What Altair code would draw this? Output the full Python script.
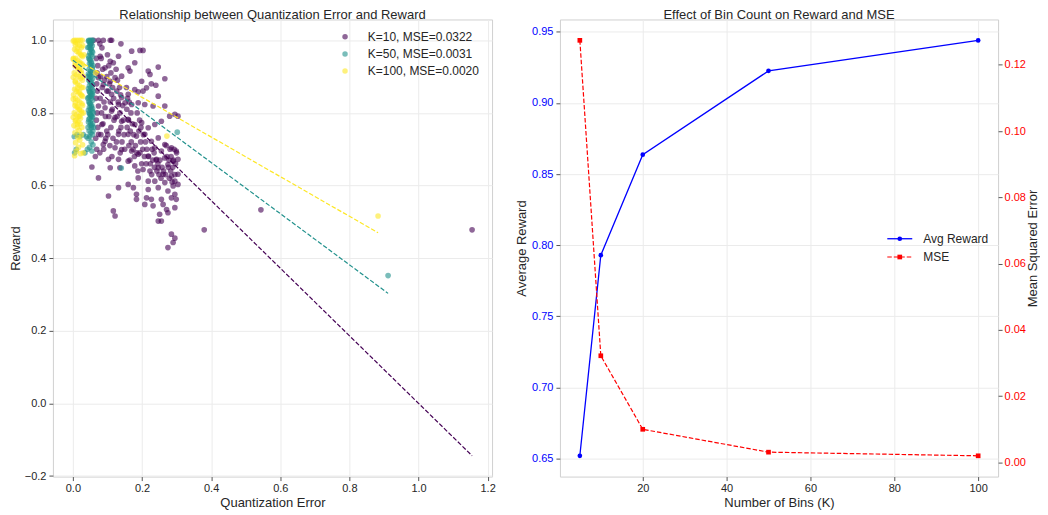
import altair as alt
import pandas as pd

FONT = "Liberation Sans"
TXT = "#262626"

# ---------------- left panel: values ----------------
group_labels = ["K=10, MSE=0.0322", "K=50, MSE=0.0031", "K=100, MSE=0.0020"]
group_colors = ["#440154", "#21918c", "#fde725"]

# (quantization error, reward) for K=10
pts_k10 = [
    (0.074, 1.000), (0.088, 1.000), (0.108, 1.000), (0.112, 1.000), (0.060, 1.000), (0.052, 0.990),
    (0.139, 0.990), (0.084, 0.979), (0.079, 0.956), (0.170, 0.970), (0.194, 0.972), (0.203, 0.972),
    (0.132, 0.956), (0.108, 0.942), (0.117, 0.938), (0.093, 0.924), (0.179, 0.938), (0.247, 0.926),
    (0.160, 0.924), (0.165, 0.915), (0.141, 0.901), (0.122, 0.897), (0.108, 0.887), (0.218, 0.915),
    (0.223, 0.906), (0.266, 0.894), (0.199, 0.887), (0.227, 0.880), (0.240, 0.876), (0.179, 0.864),
    (0.189, 0.858), (0.203, 0.860), (0.213, 0.869), (0.247, 0.846), (0.160, 0.851), (0.141, 0.842),
    (0.112, 0.851), (0.098, 0.860), (0.088, 0.878), (0.074, 0.897), (0.132, 0.823), (0.151, 0.828),
    (0.170, 0.823), (0.189, 0.828), (0.208, 0.823), (0.232, 0.819), (0.266, 0.819), (0.295, 0.796),
    (0.304, 0.791), (0.280, 0.791), (0.112, 0.805), (0.093, 0.814), (0.074, 0.819), (0.122, 0.787),
    (0.141, 0.777), (0.160, 0.782), (0.179, 0.768), (0.199, 0.773), (0.218, 0.759), (0.237, 0.768),
    (0.256, 0.777), (0.084, 0.768), (0.098, 0.750), (0.074, 0.741), (0.132, 0.741), (0.160, 0.741),
    (0.184, 0.736), (0.208, 0.741), (0.227, 0.722), (0.247, 0.731), (0.266, 0.713), (0.285, 0.704),
    (0.299, 0.695), (0.256, 0.695), (0.237, 0.704), (0.093, 0.722), (0.088, 0.713), (0.122, 0.704),
    (0.141, 0.699), (0.170, 0.695), (0.189, 0.686), (0.218, 0.681), (0.242, 0.672), (0.266, 0.676),
    (0.290, 0.667), (0.304, 0.672), (0.275, 0.658), (0.103, 0.672), (0.132, 0.672), (0.160, 0.667),
    (0.179, 0.654), (0.203, 0.644), (0.223, 0.640), (0.247, 0.649), (0.261, 0.631), (0.285, 0.626),
    (0.304, 0.631), (0.295, 0.612), (0.055, 0.651), (0.074, 0.621), (0.108, 0.649), (0.136, 0.649),
    (0.189, 0.621), (0.218, 0.612), (0.237, 0.612), (0.266, 0.608), (0.290, 0.599), (0.304, 0.603),
    (0.132, 0.594), (0.160, 0.603), (0.175, 0.594), (0.184, 0.576), (0.218, 0.589), (0.247, 0.594),
    (0.275, 0.585), (0.295, 0.576), (0.103, 0.571), (0.184, 0.562), (0.213, 0.566), (0.227, 0.562),
    (0.256, 0.562), (0.285, 0.566), (0.299, 0.562), (0.208, 0.548), (0.232, 0.544), (0.261, 0.548),
    (0.271, 0.534), (0.295, 0.539), (0.117, 0.530), (0.122, 0.516), (0.251, 0.521), (0.275, 0.525),
    (0.256, 0.502), (0.247, 0.502), (0.285, 0.466), (0.295, 0.455), (0.290, 0.443), (0.275, 0.429),
    (0.068, 0.950), (0.072, 0.930), (0.070, 0.910), (0.069, 0.880), (0.071, 0.860), (0.067, 0.840),
    (0.070, 0.800), (0.068, 0.780), (0.072, 0.760), (0.066, 0.730), (0.069, 0.700), (0.065, 0.680),
    (0.078, 0.990), (0.082, 0.950), (0.086, 0.920), (0.080, 0.900), (0.091, 0.890), (0.085, 0.870),
    (0.079, 0.840), (0.090, 0.830), (0.083, 0.800), (0.094, 0.790), (0.087, 0.770), (0.081, 0.740),
    (0.095, 0.730), (0.089, 0.700), (0.078, 0.690), (0.100, 0.960), (0.104, 0.930), (0.098, 0.900),
    (0.110, 0.910), (0.106, 0.880), (0.115, 0.870), (0.102, 0.860), (0.118, 0.840), (0.108, 0.830),
    (0.114, 0.810), (0.104, 0.790), (0.119, 0.780), (0.110, 0.760), (0.101, 0.740), (0.116, 0.730),
    (0.107, 0.710), (0.113, 0.680), (0.125, 0.920), (0.129, 0.890), (0.135, 0.870), (0.127, 0.860),
    (0.138, 0.850), (0.131, 0.830), (0.144, 0.820), (0.136, 0.800), (0.128, 0.790), (0.146, 0.780),
    (0.139, 0.760), (0.133, 0.750), (0.148, 0.740), (0.142, 0.720), (0.126, 0.720), (0.150, 0.700),
    (0.137, 0.690), (0.155, 0.870), (0.158, 0.840), (0.163, 0.830), (0.156, 0.810), (0.168, 0.800),
    (0.161, 0.780), (0.172, 0.770), (0.166, 0.750), (0.157, 0.760), (0.176, 0.740), (0.169, 0.720),
    (0.181, 0.710), (0.174, 0.700), (0.162, 0.710), (0.185, 0.690), (0.178, 0.680), (0.165, 0.670),
    (0.186, 0.800), (0.193, 0.780), (0.197, 0.760), (0.191, 0.750), (0.204, 0.740), (0.196, 0.720),
    (0.210, 0.720), (0.202, 0.700), (0.214, 0.700), (0.194, 0.690), (0.207, 0.680), (0.219, 0.680),
    (0.199, 0.660), (0.212, 0.660), (0.224, 0.660), (0.188, 0.640), (0.229, 0.700), (0.235, 0.690),
    (0.231, 0.670), (0.241, 0.670), (0.236, 0.650), (0.246, 0.660), (0.252, 0.670), (0.243, 0.640),
    (0.258, 0.650), (0.249, 0.630), (0.228, 0.630), (0.262, 0.640), (0.255, 0.620), (0.268, 0.630),
    (0.272, 0.680), (0.278, 0.670), (0.284, 0.680), (0.291, 0.670), (0.297, 0.660), (0.276, 0.650),
    (0.283, 0.640), (0.289, 0.650), (0.295, 0.630), (0.279, 0.620), (0.287, 0.610), (0.300, 0.690),
    (0.293, 0.700), (0.281, 0.700), (0.270, 0.710),
    (0.380, 0.478), (0.544, 0.533), (1.155, 0.478),
]

# (quantization error, reward) for K=50
pts_k50 = [
    (0.046, 1.000), (0.050, 1.000), (0.054, 1.000), (0.057, 1.000), (0.048, 0.995), (0.052, 0.990),
    (0.056, 0.985), (0.047, 0.980), (0.051, 0.975), (0.055, 0.970), (0.049, 0.965), (0.053, 0.960),
    (0.057, 0.955), (0.046, 0.950), (0.050, 0.945), (0.054, 0.940), (0.048, 0.935), (0.052, 0.930),
    (0.056, 0.925), (0.047, 0.920), (0.051, 0.915), (0.055, 0.910), (0.049, 0.905), (0.053, 0.900),
    (0.057, 0.895), (0.046, 0.890), (0.050, 0.885), (0.054, 0.880), (0.048, 0.875), (0.052, 0.870),
    (0.056, 0.865), (0.047, 0.860), (0.051, 0.855), (0.055, 0.850), (0.049, 0.845), (0.053, 0.840),
    (0.057, 0.835), (0.046, 0.830), (0.050, 0.825), (0.054, 0.820), (0.048, 0.815), (0.052, 0.810),
    (0.056, 0.805), (0.047, 0.800), (0.051, 0.795), (0.055, 0.790), (0.049, 0.785), (0.053, 0.780),
    (0.045, 0.775), (0.057, 0.770), (0.050, 0.765), (0.054, 0.760), (0.047, 0.750), (0.052, 0.745),
    (0.056, 0.740), (0.049, 0.735), (0.044, 0.730), (0.053, 0.720), (0.058, 0.712), (0.048, 0.705),
    (0.039, 0.735), (0.030, 0.740), (0.055, 0.695), (0.035, 0.690), (0.042, 0.700), (0.060, 0.760),
    (0.043, 0.980), (0.044, 0.900), (0.043, 0.840), (0.058, 0.930), (0.058, 0.860), (0.059, 0.800),
    (0.045, 0.998), (0.049, 0.987), (0.053, 0.977), (0.057, 0.967), (0.045, 0.957), (0.049, 0.947),
    (0.053, 0.937), (0.057, 0.917), (0.045, 0.907), (0.049, 0.897), (0.053, 0.887), (0.057, 0.877),
    (0.045, 0.867), (0.049, 0.857), (0.053, 0.847), (0.057, 0.852), (0.045, 0.842), (0.049, 0.827),
    (0.053, 0.817), (0.057, 0.812), (0.045, 0.807), (0.049, 0.797), (0.053, 0.792), (0.057, 0.787),
    (0.046, 0.782), (0.051, 0.772), (0.055, 0.765), (0.044, 0.760), (0.058, 0.750),
    (0.005, 0.690), (0.012, 0.740), (0.020, 0.735), (0.004, 0.735), (0.010, 0.700),
    (0.140, 0.648), (0.302, 0.747), (0.912, 0.352),
]

# (quantization error, reward) for K=100
pts_k100 = [
    (0.004, 1.000), (0.010, 1.000), (0.016, 1.000), (0.022, 1.000), (0.027, 1.000), (0.007, 0.995),
    (0.013, 0.990), (0.019, 0.985), (0.025, 0.980), (0.005, 0.975), (0.011, 0.970), (0.017, 0.965),
    (0.023, 0.960), (0.028, 0.955), (0.008, 0.950), (0.014, 0.945), (0.020, 0.940), (0.026, 0.935),
    (0.006, 0.930), (0.012, 0.925), (0.018, 0.920), (0.024, 0.915), (0.004, 0.910), (0.010, 0.905),
    (0.016, 0.900), (0.022, 0.895), (0.027, 0.890), (0.007, 0.885), (0.013, 0.880), (0.019, 0.875),
    (0.025, 0.870), (0.005, 0.865), (0.011, 0.860), (0.017, 0.855), (0.023, 0.850), (0.028, 0.845),
    (0.008, 0.840), (0.014, 0.835), (0.020, 0.830), (0.026, 0.825), (0.006, 0.820), (0.012, 0.815),
    (0.018, 0.810), (0.024, 0.805), (0.004, 0.800), (0.010, 0.795), (0.016, 0.790), (0.022, 0.785),
    (0.009, 0.780), (0.015, 0.775), (0.021, 0.770), (0.003, 0.765), (0.012, 0.760), (0.018, 0.752),
    (0.006, 0.745), (0.024, 0.740), (0.014, 0.732), (0.020, 0.725), (0.008, 0.718), (0.028, 0.712),
    (0.016, 0.705), (0.010, 0.695), (0.022, 0.688), (0.005, 0.682), (0.030, 0.690), (0.026, 0.760),
    (0.030, 0.800), (0.032, 0.960), (0.030, 0.900), (0.066, 0.910), (0.002, 0.850), (0.002, 0.950),
    (0.001, 0.998), (0.007, 0.988), (0.013, 0.978), (0.019, 0.968), (0.025, 0.958), (0.001, 0.948),
    (0.007, 0.938), (0.013, 0.928), (0.019, 0.918), (0.025, 0.908), (0.001, 0.898), (0.007, 0.888),
    (0.013, 0.868), (0.019, 0.858), (0.025, 0.848), (0.001, 0.838), (0.007, 0.828), (0.013, 0.818),
    (0.019, 0.808), (0.025, 0.798), (0.001, 0.788), (0.007, 0.778), (0.013, 0.768), (0.019, 0.790),
    (0.028, 0.820), (0.029, 0.870), (0.029, 0.930), (0.028, 0.985),
    (0.272, 0.736), (0.883, 0.516),
]

# dashed fit lines: (start, end)
fit_qe_k10 = [0.0, 1.155]
fit_rw_k10 = [0.931, -0.144]
fit_qe_k50 = [0.0, 0.912]
fit_rw_k50 = [0.945, 0.303]
fit_qe_k100 = [0.0, 0.883]
fit_rw_k100 = [0.952, 0.470]

# ---------------- right panel ----------------
bins_k = [5, 10, 20, 50, 100]
avg_reward = [0.652, 0.793, 0.8636, 0.9225, 0.9439]
mse_vals = [0.1274, 0.0322, 0.0100, 0.0031, 0.0020]

# ---------------- build tables ----------------
rows = []
for lab, pts in zip(group_labels, [pts_k10, pts_k50, pts_k100]):
    for q, r in pts:
        rows.append({"group": lab, "qe": q, "reward": r})
scatter_df = pd.DataFrame(rows)

fit_rows = []
for lab, qs, rs in zip(group_labels,
                       [fit_qe_k10, fit_qe_k50, fit_qe_k100],
                       [fit_rw_k10, fit_rw_k50, fit_rw_k100]):
    for i, (q, r) in enumerate(zip(qs, rs)):
        fit_rows.append({"group": lab, "qe": q, "reward": r, "o": i})
fit_df = pd.DataFrame(fit_rows)

right_df = pd.DataFrame({"K": bins_k, "avg": avg_reward, "mse": mse_vals})
one = pd.DataFrame({"a": [0]})

PLOT_H = 458

# ---------------- left chart ----------------
xq = alt.X("qe:Q",
           scale=alt.Scale(domain=[-0.0578, 1.2128], nice=False, zero=False),
           axis=alt.Axis(title="Quantization Error", values=[0, 0.2, 0.4, 0.6, 0.8, 1.0, 1.2],
                         format=".1f"))
yr = alt.Y("reward:Q",
           scale=alt.Scale(domain=[-0.2014, 1.0572], nice=False, zero=False),
           axis=alt.Axis(title="Reward", values=[-0.2, 0, 0.2, 0.4, 0.6, 0.8, 1.0],
                         format=".1f", titlePadding=2))
cscale = alt.Scale(domain=group_labels, range=group_colors)

pts_layer = alt.Chart(scatter_df).mark_circle(size=32, opacity=0.6).encode(
    x=xq, y=yr,
    color=alt.Color("group:N", scale=cscale, legend=None),
)
fit_layer = alt.Chart(fit_df).mark_line(strokeDash=[4.5, 2], strokeWidth=1.2).encode(
    x=xq, y=yr, order="o:Q",
    color=alt.Color("group:N", scale=cscale, legend=None),
    detail="group:N",
)

# legend (decoration): one marker + label per group, in the upper right corner
left_legend = []
for lab, col, ly in zip(group_labels, group_colors, [17.4, 34.7, 51.7]):
    left_legend.append(alt.Chart(one).mark_circle(size=30, opacity=0.6, color=col).encode(
        x=alt.value(292.7), y=alt.value(ly)))
    left_legend.append(alt.Chart(one).mark_text(align="left", baseline="middle", fontSize=12,
                                                color=TXT).encode(
        x=alt.value(315.5), y=alt.value(ly), text=alt.value(lab)))

left = alt.layer(pts_layer, fit_layer, *left_legend).properties(
    width=440, height=PLOT_H,
    title=alt.Title("Relationship between Quantization Error and Reward"),
)

# ---------------- right chart ----------------
xk = alt.X("K:Q", scale=alt.Scale(domain=[0.25, 104.75], nice=False, zero=False),
           axis=alt.Axis(title="Number of Bins (K)", values=[20, 40, 60, 80, 100]))

reward_layer = alt.Chart(right_df).mark_line(
    color="#0000ff", strokeWidth=1.3,
    point=alt.OverlayMarkDef(filled=True, color="#0000ff", size=22, opacity=1),
).encode(
    x=xk,
    y=alt.Y("avg:Q", scale=alt.Scale(domain=[0.6374, 0.9586], nice=False, zero=False),
            axis=alt.Axis(title="Average Reward", values=[0.65, 0.70, 0.75, 0.80, 0.85, 0.90, 0.95],
                          format=".2f", labelColor="#0000ff", gridColor="#ebebeb", titlePadding=3)),
)
mse_layer = alt.Chart(right_df).mark_line(
    color="#ff0000", strokeWidth=1.2, strokeDash=[4.5, 2],
    point=alt.OverlayMarkDef(filled=True, shape="square", color="#ff0000", size=22, opacity=1),
).encode(
    x=xk,
    y=alt.Y("mse:Q", scale=alt.Scale(domain=[-0.00427, 0.1337], nice=False, zero=False),
            axis=alt.Axis(orient="right", title="Mean Squared Error",
                          values=[0, 0.02, 0.04, 0.06, 0.08, 0.10, 0.12], format=".2f",
                          labelColor="#ff0000", gridColor="#d0d0d0", labelPadding=2,
                          titleAngle=270, titleBaseline="top", titlePadding=1)),
)

leg_y1, leg_y2 = 219.7, 238
leg_rule1 = alt.Chart(one).mark_rule(color="#0000ff", strokeWidth=1.3).encode(
    x=alt.value(328), x2=alt.value(353), y=alt.value(leg_y1))
leg_pt1 = alt.Chart(one).mark_point(filled=True, shape="circle", color="#0000ff", size=22, opacity=1).encode(
    x=alt.value(340.5), y=alt.value(leg_y1))
leg_txt1 = alt.Chart(one).mark_text(align="left", baseline="middle", fontSize=12, color=TXT).encode(
    x=alt.value(364), y=alt.value(leg_y1), text=alt.value("Avg Reward"))
leg_rule2 = alt.Chart(one).mark_rule(color="#ff0000", strokeWidth=1.2, strokeDash=[4.5, 2]).encode(
    x=alt.value(328), x2=alt.value(353), y=alt.value(leg_y2))
leg_pt2 = alt.Chart(one).mark_point(filled=True, shape="square", color="#ff0000", size=22, opacity=1).encode(
    x=alt.value(340.5), y=alt.value(leg_y2))
leg_txt2 = alt.Chart(one).mark_text(align="left", baseline="middle", fontSize=12, color=TXT).encode(
    x=alt.value(364), y=alt.value(leg_y2), text=alt.value("MSE"))

right = alt.layer(reward_layer, mse_layer, leg_rule1, leg_pt1, leg_txt1,
                  leg_rule2, leg_pt2, leg_txt2).resolve_scale(y="independent").properties(
    width=439, height=PLOT_H,
    title=alt.Title("Effect of Bin Count on Reward and MSE"),
)

chart = alt.hconcat(left, right, spacing=19).properties(
    padding=0
).configure(font=FONT).configure_view(
    stroke="#d0d0d0", strokeWidth=1
).configure_axis(
    domain=False, grid=True, gridColor="#ebebeb", gridWidth=1,
    tickColor="#555555", tickSize=4, tickWidth=1,
    labelFontSize=11, labelColor=TXT, labelPadding=3,
    titleFontSize=13, titleColor=TXT, titleFontWeight="normal", titlePadding=3,
).configure_axisX(
    labelPadding=2
).configure_title(
    fontSize=13, fontWeight="normal", color=TXT, anchor="middle", offset=-3
)

chart.save("out.html", embed_options={"renderer": "svg", "actions": False})
